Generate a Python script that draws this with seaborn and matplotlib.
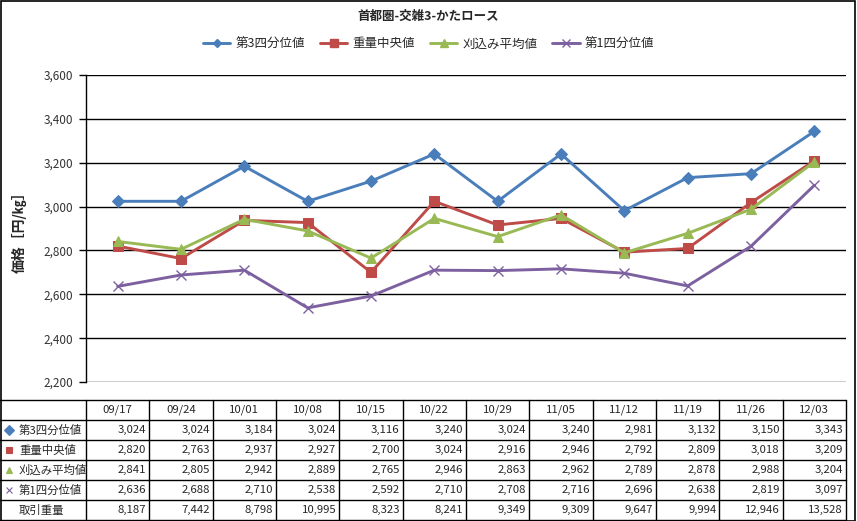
import numpy as np
import pandas as pd
import matplotlib
matplotlib.use("Agg")
import matplotlib.pyplot as plt
import seaborn as sns
from matplotlib.lines import Line2D
from matplotlib.patches import Rectangle

# ---------------- data ----------------
title = "首都圏-交雑3-かたロース"
ylabel = "価格［円/㎏］"
dates = ["09/17", "09/24", "10/01", "10/08", "10/15", "10/22",
         "10/29", "11/05", "11/12", "11/19", "11/26", "12/03"]
series_names = ["第3四分位値", "重量中央値", "刈込み平均値", "第1四分位値"]
q3 = [3024, 3024, 3184, 3024, 3116, 3240, 3024, 3240, 2981, 3132, 3150, 3343]
median = [2820, 2763, 2937, 2927, 2700, 3024, 2916, 2946, 2792, 2809, 3018, 3209]
trimmed = [2841, 2805, 2942, 2889, 2765, 2946, 2863, 2962, 2789, 2878, 2988, 3204]
q1 = [2636, 2688, 2710, 2538, 2592, 2710, 2708, 2716, 2696, 2638, 2819, 3097]
volume_label = "取引重量"
volume = [8187, 7442, 8798, 10995, 8323, 8241, 9349, 9309, 9647, 9994, 12946, 13528]
yticks = [2200, 2400, 2600, 2800, 3000, 3200, 3400, 3600]

# ---------------- style ----------------
colors = ["#4A7EBB", "#BE4B48", "#98B954", "#7D60A0"]
markers = ["D", "s", "^", "x"]
msizes = [6, 7, 7.5, 7]

sns.set_theme(style="white")
FONT = ["Noto Sans CJK JP", "DejaVu Sans"]
plt.rcParams["font.family"] = FONT

W, H = 857, 521
fig = plt.figure(figsize=(W / 100, H / 100), dpi=100)

# plot area in pixel layout
L, R, T, B = 86, 846, 75, 382
ax = fig.add_axes([L / W, 1 - B / H, (R - L) / W, (B - T) / H])

values = [q3, median, trimmed, q1]
for name, vals, c, m, ms in zip(series_names, values, colors, markers, msizes):
    df = pd.DataFrame({"date": dates, "value": vals})
    sns.lineplot(data=df, x="date", y="value", ax=ax, color=c, lw=2.1,
                 marker=m, markersize=ms, markeredgecolor=c,
                 markeredgewidth=1.0 if m == "x" else 0.75, sort=False)

ax.set_xlim(-0.5, len(dates) - 0.5)
ax.set_ylim(yticks[0], yticks[-1])
ax.set_yticks(yticks)
ax.set_yticklabels([f"{v:,}" for v in yticks], fontsize=8.5, color="#333333")
ax.set_xticks([])
ax.set_xlabel("")
ax.set_ylabel(ylabel, fontsize=10, fontweight="bold")
ax.yaxis.set_label_coords((27 - L) / (R - L), 0.5)
ax.yaxis.grid(True, color="black", lw=1)
ax.set_axisbelow(True)
for s in ["top", "right", "bottom"]:
    ax.spines[s].set_visible(False)
ax.spines["left"].set_color("black")
ax.spines["left"].set_linewidth(1)
ax.tick_params(axis="y", direction="out", length=5, width=1, color="black",
               left=True, pad=4)

# title and legend
fig.text(0.5, 1 - 16 / H, title, ha="center", va="center", fontsize=9,
         fontweight="bold")
handles = [Line2D([], [], color=c, lw=2.1, marker=m, markersize=ms * 0.75,
                  markeredgecolor=c)
           for c, m, ms in zip(colors, markers, msizes)]
fig.legend(handles, series_names, loc="center", bbox_to_anchor=(0.5, 1 - 44 / H),
           ncol=4, frameon=False, fontsize=9, handlelength=2.2,
           columnspacing=1.2, handletextpad=0.4)

# ---------------- data table ----------------
TT, TB = 400, 520
tax = fig.add_axes([0, 1 - TB / H, R / W, (TB - TT) / H])
tax.set_xlim(0, R)
tax.set_ylim(TB - TT, 0)
tax.axis("off")
ncol = len(dates)
cw = (R - L) / ncol
rh = (TB - TT) / 6
lk = dict(color="black", lw=1)
for r in range(7):
    tax.plot([0, R], [r * rh, r * rh], **lk, clip_on=False)
for k in range(ncol + 1):
    tax.plot([L + k * cw] * 2, [0, TB - TT], **lk, clip_on=False)

fs = 8.2
for k, d in enumerate(dates):
    tax.text(L + (k + 0.5) * cw, 0.5 * rh, d, ha="center", va="center",
             fontsize=fs)
rows = values + [volume]
labels = series_names + [volume_label]
for r, (lab, vals) in enumerate(zip(labels, rows)):
    y = (r + 1.5) * rh
    if r < 4:
        tax.plot([9], [y], marker=markers[r], color=colors[r],
                 markersize=5 if markers[r] != "x" else 4.5,
                 markeredgewidth=0.8, clip_on=False)
    tax.text(19, y, lab, ha="left", va="center", fontsize=fs)
    for k, v in enumerate(vals):
        tax.text(L + (k + 1) * cw - 3, y, f"{v:,}", ha="right", va="center",
                 fontsize=fs)

# outer border
fig.patches.append(Rectangle((0.5 / W, 0.5 / H), 1 - 2.5 / W, 1 - 1.5 / H,
                             transform=fig.transFigure, fill=False,
                             edgecolor="black", lw=1.2))

fig.savefig("out.png", dpi=100)
